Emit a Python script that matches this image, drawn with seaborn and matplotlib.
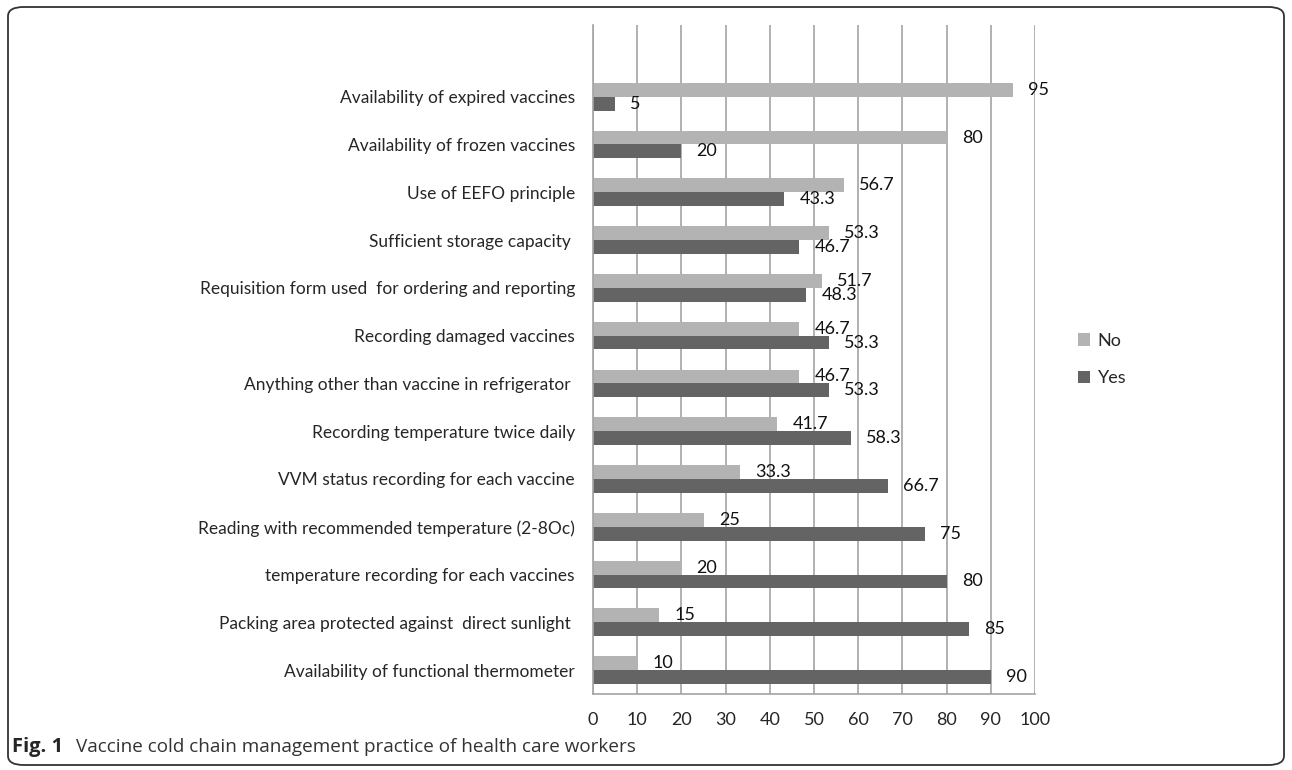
import matplotlib.pyplot as plt
import seaborn as sns
import pandas as pd
from matplotlib.patches import FancyBboxPatch
from matplotlib.ticker import FixedLocator, MultipleLocator

# data, top to bottom as in the figure
practices = [
    "Availability of expired vaccines",
    "Availability of frozen vaccines",
    "Use of EEFO principle",
    "Sufficient storage capacity ",
    "Requisition form used  for ordering and reporting",
    "Recording damaged vaccines",
    "Anything other than vaccine in refrigerator ",
    "Recording temperature twice daily",
    "VVM status recording for each vaccine",
    "Reading with recommended temperature (2-8Oc)",
    "temperature recording for each vaccines",
    "Packing area protected against  direct sunlight ",
    "Availability of functional thermometer",
]
no_pct = [95, 80, 56.7, 53.3, 51.7, 46.7, 46.7, 41.7, 33.3, 25, 20, 15, 10]
yes_pct = [5, 20, 43.3, 46.7, 48.3, 53.3, 53.3, 58.3, 66.7, 75, 80, 85, 90]

df = pd.DataFrame({
    "practice": practices * 2,
    "pct": no_pct + yes_pct,
    "answer": ["No"] * len(practices) + ["Yes"] * len(practices),
})

sns.set_style("white")
plt.rcParams['font.family'] = ['Lato', 'DejaVu Sans']

fig = plt.figure(figsize=(12.92, 7.70), dpi=100)
ax = fig.add_axes([593/1292, 1 - 694/770, (1035-593)/1292, (694-25)/770])

palette = {"No": "#b3b3b3", "Yes": "#646464"}
sns.barplot(data=df, y="practice", x="pct", hue="answer", order=practices,
            hue_order=["No", "Yes"], palette=palette, orient="h",
            width=0.58, saturation=1, edgecolor="none", ax=ax)

for cont in ax.containers:
    ax.bar_label(cont, labels=[f"{v:g}" for v in cont.datavalues],
                 padding=11, fontsize=13, color="#111111")

# extra empty slot at the top, as in the original
ax.set_ylim(len(practices) - 0.5, -1.5)
ax.set_xlim(0, 100)
ax.xaxis.set_major_locator(MultipleLocator(10))
ax.yaxis.set_minor_locator(FixedLocator([i - 0.5 for i in range(-1, len(practices) + 1)]))

ax.grid(axis="x", color="#a3a3a3", linewidth=1.2)
ax.set_axisbelow(True)
for s in ["top", "right"]:
    ax.spines[s].set_visible(False)
for s in ["left", "bottom"]:
    ax.spines[s].set_color("#a3a3a3")
    ax.spines[s].set_linewidth(1.2)

ax.tick_params(axis="y", which="major", length=0, pad=13, labelsize=12.5)
ax.tick_params(axis="y", which="minor", length=5, color="#a3a3a3", width=1.2)
ax.tick_params(axis="x", which="major", length=5, color="#a3a3a3", width=1.2,
               pad=8, labelsize=13)
ax.set_xlabel("")
ax.set_ylabel("")

ax.legend(loc="center left", bbox_to_anchor=(1.06, 0.5), frameon=False,
          fontsize=13, handlelength=0.7, handleheight=0.7,
          labelspacing=1.2, handletextpad=0.4)

# rounded frame and caption
frame = FancyBboxPatch((8/1292, 5/770), 1276/1292, 758/770,
                       boxstyle="round,pad=0,rounding_size=0.012",
                       transform=fig.transFigure, fill=False,
                       edgecolor="#333333", linewidth=1.3)
fig.patches.append(frame)
fig.text(12/1292, 1 - 747/770, "Fig. 1", fontsize=14.5, fontweight="bold",
         va="center", family=["Open Sans", "DejaVu Sans"])
fig.text(76/1292, 1 - 747/770, "Vaccine cold chain management practice of health care workers",
         fontsize=13.6, va="center", color="#333333",
         family=["Open Sans", "DejaVu Sans"])

fig.savefig("out.png", dpi=100)
